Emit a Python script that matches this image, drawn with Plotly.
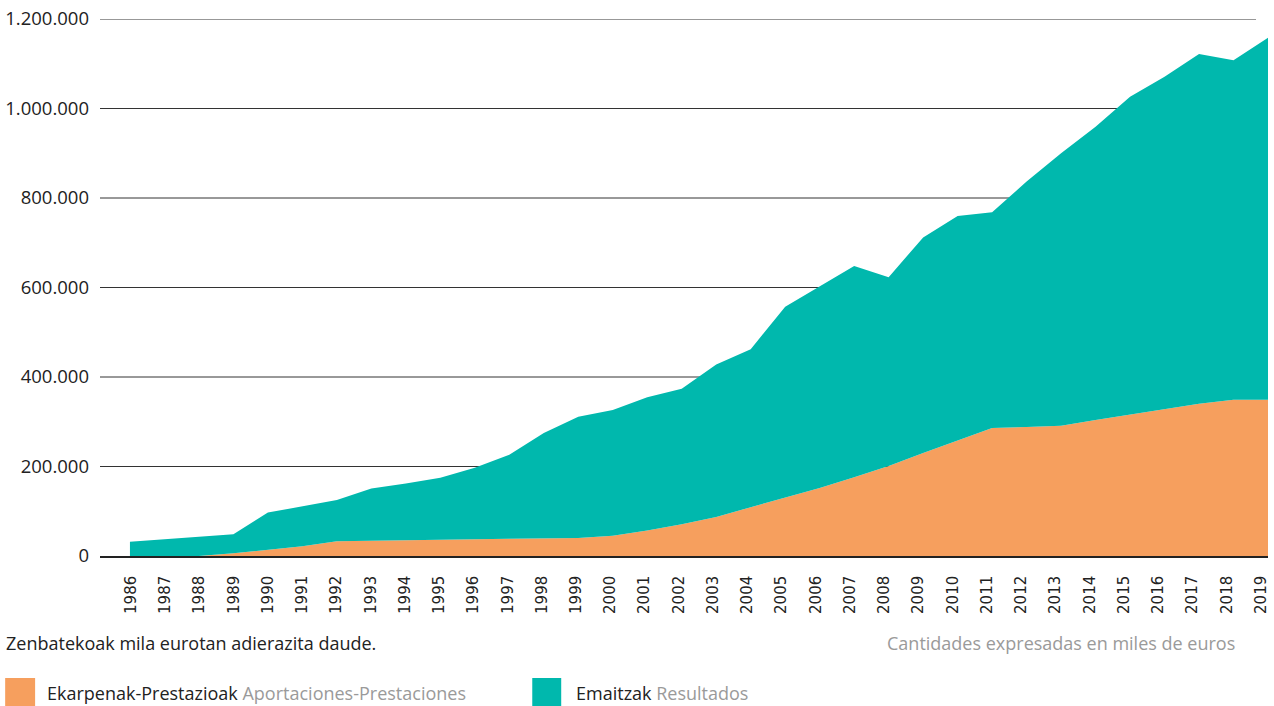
import plotly.graph_objects as go

years = list(range(1986, 2020))

# miles de euros
aportaciones = [
    0, 0, 0, 6000, 14000, 22000, 33000, 34500, 35500, 36500,
    37500, 38500, 39500, 40500, 45000, 57000, 71000, 87000, 109000, 130000,
    152000, 176000, 201000, 230000, 258000, 286000, 288500, 291000, 304000, 316000,
    328000, 340000, 349000, 349000,
]
resultados = [
    32000, 37500, 43000, 42500, 83000, 89000, 92000, 116500, 126500, 138500,
    159500, 187500, 235500, 270500, 281000, 298000, 303000, 341000, 353000, 427000,
    450000, 472000, 422000, 482000, 502000, 482000, 548500, 609000, 655000, 710000,
    743000, 782000, 759000, 809000,
]
y_ticks = [0, 200000, 400000, 600000, 800000, 1000000, 1200000]

ORANGE = '#F69F5E'
TEAL = '#00B8AD'
GREY = '#9a9a9a'
W, H = 1274, 706
L, R, T, B = 100, 1270, 19, 556


def px_x(x):
    return (x - L) / (R - L)


def px_y(y):
    return (B - y) / (B - T)


fig = go.Figure()
# the areas live on x2; x only carries the year labels, which sit slightly tighter
fig.add_trace(go.Scatter(
    x=years, y=aportaciones, name='Ekarpenak-Prestazioak Aportaciones-Prestaciones',
    mode='lines', stackgroup='one', line=dict(width=0), fillcolor=ORANGE,
    hoverinfo='x+y', xaxis='x2',
))
fig.add_trace(go.Scatter(
    x=years, y=resultados, name='Emaitzak Resultados',
    mode='lines', stackgroup='one', line=dict(width=0), fillcolor=TEAL,
    hoverinfo='x+y', xaxis='x2',
))
fig.add_trace(go.Scatter(x=years, y=[0] * len(years), mode='none', hoverinfo='skip'))

# gridlines stop a little short of the right edge, as in the original
for v in y_ticks[1:]:
    fig.add_shape(type='line', xref='paper', yref='y', x0=0, x1=px_x(1258), y0=v, y1=v,
                  line=dict(color='#333', width=1), layer='below')

# legend swatches and footer text
fig.add_shape(type='rect', xref='paper', yref='paper', x0=px_x(5), x1=px_x(35),
              y0=px_y(707), y1=px_y(678), fillcolor=ORANGE, line=dict(width=0))
fig.add_shape(type='rect', xref='paper', yref='paper', x0=px_x(533), x1=px_x(562),
              y0=px_y(707), y1=px_y(678), fillcolor=TEAL, line=dict(width=0))

text_font = dict(family='Open Sans, sans-serif', size=18, color='#222')
fig.add_annotation(xref='paper', yref='paper', x=px_x(4), y=px_y(643), xanchor='left',
                   yanchor='middle', showarrow=False, font=text_font,
                   text='Zenbatekoak mila eurotan adierazita daude.')
fig.add_annotation(xref='paper', yref='paper', x=px_x(1239), y=px_y(643), xanchor='right',
                   yanchor='middle', showarrow=False, font=dict(text_font, color=GREY),
                   text='Cantidades expresadas en miles de euros')
fig.add_annotation(xref='paper', yref='paper', x=px_x(45), y=px_y(693), xanchor='left',
                   yanchor='middle', showarrow=False, font=text_font,
                   text=f"Ekarpenak-Prestazioak <span style='color:{GREY}'>Aportaciones-Prestaciones</span>")
fig.add_annotation(xref='paper', yref='paper', x=px_x(575), y=px_y(693), xanchor='left',
                   yanchor='middle', showarrow=False, font=text_font,
                   text=f"Emaitzak <span style='color:{GREY}'>Resultados</span>")

fig.update_layout(
    width=W, height=H,
    margin=dict(l=L, r=W - R, t=T, b=H - B),
    paper_bgcolor='white', plot_bgcolor='white',
    showlegend=False,
    separators=',.',
    xaxis=dict(
        range=[1986 - 31 / 34.3, 2019 + 7 / 34.3],
        tickmode='array', tickvals=years, ticktext=[str(y) for y in years],
        tickangle=-90, ticklabelstandoff=12,
        tickfont=dict(family='DejaVu Sans', size=15, color='#222'),
        showgrid=False, zeroline=False,
        showline=True, linecolor='#222', linewidth=1.5, ticks='',
    ),
    xaxis2=dict(
        range=[1986 - 30 / ((R - 130) / 33), 2019],
        overlaying='x', anchor='y', visible=False,
    ),
    yaxis=dict(
        range=[0, 1200000], tickvals=y_ticks, tickformat=',d',
        tickfont=dict(family='Open Sans', size=18.5, color='#222'),
        showgrid=False, zeroline=False, showline=False, ticks='',
        ticklabelstandoff=10,
    ),
)

# the page is shown in a window the size of the figure, so drop the body margin
fig.write_html('out.html', config={'displayModeBar': False},
               post_script="document.body.style.margin='0';")
